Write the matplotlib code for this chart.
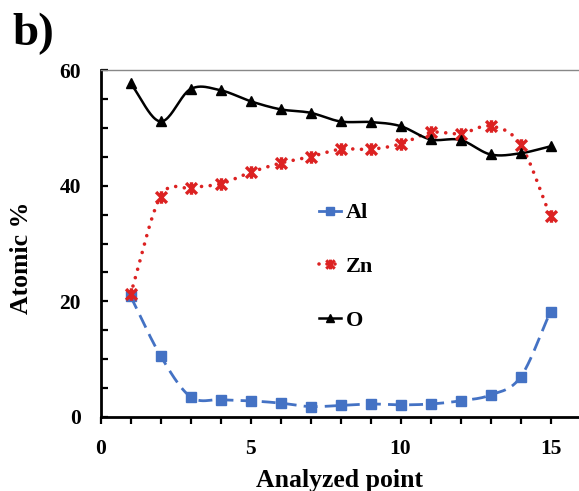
import numpy as np
import matplotlib
matplotlib.use("Agg")
import matplotlib.pyplot as plt
from matplotlib.path import Path
from matplotlib.ticker import MultipleLocator

plt.rcParams['font.family'] = ['Liberation Serif', 'DejaVu Serif']
plt.rcParams['font.weight'] = 'bold'

points = [1, 2, 3, 4, 5, 6, 7, 8, 9, 10, 11, 12, 13, 14, 15]
al = [20.9, 10.6, 3.5, 3.0, 2.8, 2.4, 1.8, 2.0, 2.25, 2.1, 2.25, 2.8, 3.8, 6.9, 18.2]
zn = [21.2, 38.1, 39.6, 40.3, 42.3, 43.9, 45.0, 46.3, 46.3, 47.2, 49.2, 49.0, 50.3, 47.1, 34.7]
o = [57.7, 51.1, 56.7, 56.5, 54.6, 53.2, 52.6, 51.1, 51.0, 50.3, 48.0, 47.9, 45.4, 45.6, 46.8]
labels = ['Al', 'Zn', 'O']

xticks_major = [0, 5, 10, 15]
yticks_major = [0, 20, 40, 60]


def smooth(x, y, n=24):
    """Catmull-Rom style smoothing (like Excel smoothed lines)."""
    x = np.asarray(x, float)
    y = np.asarray(y, float)
    px = np.concatenate([[2 * x[0] - x[1]], x, [2 * x[-1] - x[-2]]])
    py = np.concatenate([[2 * y[0] - y[1]], y, [2 * y[-1] - y[-2]]])
    xs, ys = [], []
    t = np.linspace(0, 1, n, endpoint=False)
    for i in range(1, len(px) - 2):
        p0, p1, p2, p3 = (np.array([px[j], py[j]]) for j in (i - 1, i, i + 1, i + 2))
        c1 = p1 + (p2 - p0) / 6.0
        c2 = p2 - (p3 - p1) / 6.0
        b = ((1 - t) ** 3)[:, None] * p1 + (3 * (1 - t) ** 2 * t)[:, None] * c1 \
            + (3 * (1 - t) * t ** 2)[:, None] * c2 + (t ** 3)[:, None] * p2
        xs.append(b[:, 0])
        ys.append(b[:, 1])
    xs.append([x[-1]])
    ys.append([y[-1]])
    return np.concatenate(xs), np.concatenate(ys)


star = Path([(-1, -1), (1, 1), (-1, 1), (1, -1), (0, -1.15), (0, 1.15)],
            [Path.MOVETO, Path.LINETO, Path.MOVETO, Path.LINETO, Path.MOVETO, Path.LINETO])

W, H = 579, 491
fig = plt.figure(figsize=(W / 100, H / 100), dpi=100)
ax = fig.add_axes([100.5 / W, 1 - 417 / H, (W - 100.5) / W, 347 / H])

blue = '#4472C4'
red = '#DC2222'

sx, sy = smooth(points, al)
ax.plot(sx, sy, color=blue, lw=2.0, ls=(0, (5, 2.6)), zorder=2)
sx, sy = smooth(points, zn)
ax.plot(sx, sy, color=red, lw=2.6, ls=(0, (0.01, 2.4)), dash_capstyle='round', zorder=2)
sx, sy = smooth(points, o)
ax.plot(sx, sy, color='black', lw=1.8, zorder=2)

ax.plot(points, al, ls='none', marker='s', ms=7.5, color=blue, zorder=3)
ax.plot(points, zn, ls='none', marker=star, ms=9, mew=2.4, mec=red, color=red, zorder=3)
ax.plot(points, o, ls='none', marker='^', ms=7.5, color='black', zorder=3)

# legend handles
h1, = ax.plot([], [], color=blue, lw=2.0, marker='s', ms=6)
h2, = ax.plot([], [], color=red, lw=2.6, ls=(0, (0.01, 2.2)), dash_capstyle='round',
              marker=star, ms=7, mew=2.2, mec=red)
h3, = ax.plot([], [], color='black', lw=1.8, marker='^', ms=6)
ax.legend([h1, h2, h3], labels, loc='upper left', bbox_to_anchor=(0.415, 0.675),
          frameon=False, handlelength=1.0, handletextpad=0.2, labelspacing=1.5,
          prop={'family': 'Liberation Serif', 'weight': 'bold', 'size': 16})

ax.set_xlim(0, 15.95)
ax.set_ylim(0, 60)
ax.set_xticks(xticks_major)
ax.xaxis.set_minor_locator(MultipleLocator(1))
ax.set_yticks(yticks_major)
ax.yaxis.set_minor_locator(MultipleLocator(5))

ax.tick_params(axis='x', which='both', direction='out', length=5, width=1.6,
               labelsize=15.5, pad=11, color='black')
ax.tick_params(axis='y', which='both', direction='in', length=5, width=1.6,
               labelsize=15.5, pad=14, color='black')
for lbl in ax.get_xticklabels() + ax.get_yticklabels():
    lbl.set_fontweight('bold')

ax.spines['left'].set_linewidth(2.0)
ax.spines['bottom'].set_linewidth(2.0)
ax.spines['top'].set_linewidth(1.0)
ax.spines['top'].set_color('#888888')
ax.spines['right'].set_visible(False)

ax.set_xlabel('Analyzed point', fontsize=18.5, fontweight='bold', labelpad=7)
ax.set_ylabel('Atomic %', fontsize=18.5, fontweight='bold')
ax.yaxis.set_label_coords(-0.141, 0.458)

fig.text(12 / W, 1 - 13 / H, 'b)', fontsize=34, fontweight='bold', va='top', ha='left',
         family='Liberation Serif')

fig.savefig('out.png', dpi=100)
